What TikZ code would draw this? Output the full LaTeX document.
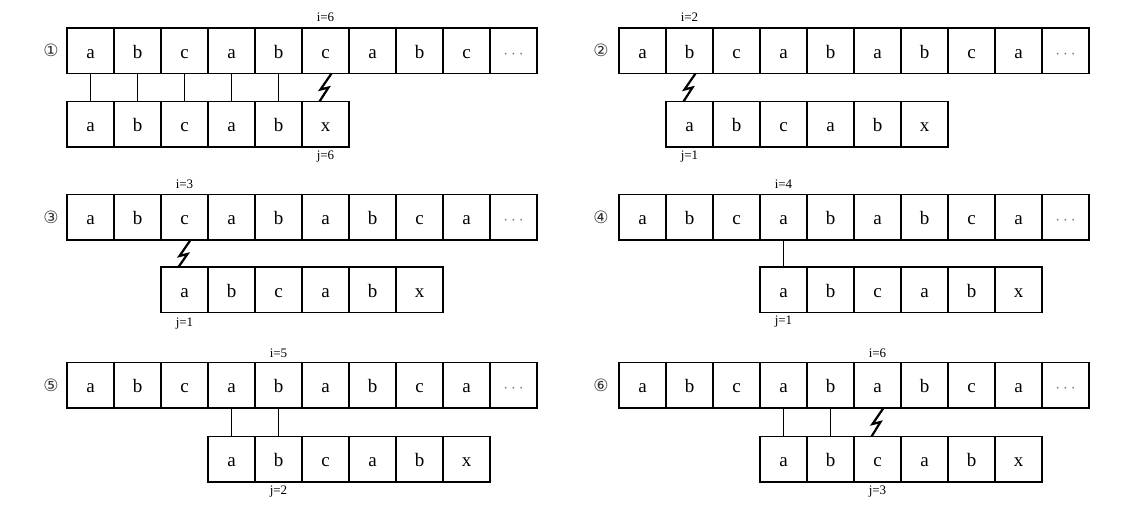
\documentclass[tikz,border=0pt]{standalone}
\usepackage{fontspec}
\setmainfont{Liberation Serif}
\newfontfamily\circfont{DejaVu Sans}
\usetikzlibrary{calc}
\tikzset{
 cellbox/.style={draw, line width=1.3pt, minimum width=47pt, minimum height=45.5pt, inner sep=0pt, outer sep=0pt, anchor=north west, font=\fontsize{19}{21}\selectfont, text height=15pt, text depth=0pt},
 dotsbox/.style={cellbox, text=black!55},
 idx/.style={font=\fontsize{13}{15}\selectfont, inner sep=0pt},
 num/.style={font=\circfont\fontsize{17}{19}\selectfont, inner sep=0pt, text=black!80},
 match/.style={line width=1.1pt},
 bolt/.style={line width=2.2pt, line join=miter},
}
\begin{document}
\begin{tikzpicture}[x=1pt,y=-1pt]
\useasboundingbox (0,0) rectangle (1144,506);
% ---------- panel 1 ----------
\foreach \c [count=\k from 0] in {a,b,c,a,b,c,a,b,c}
  \node[cellbox] (p1t\k) at ({67+\k*47},28) {\c};
\node[dotsbox] (p1t9) at ({67+9*47},28) {$\cdots$};
\foreach \c [count=\k from 0] in {a,b,c,a,b,x}
  \node[cellbox] (p1b\k) at ({67+\k*47},101.5) {\c};
\foreach \k in {0,...,4} \draw[match] (p1t\k.south) -- (p1b\k.north);
\draw[bolt] ($(p1t5.south)+(6,0)$) -- ++(-11,16) -- ++(8,-2) -- ($(p1b5.north)+(-6,0)$);
\node[idx] (i1) at ($(p1t5.north)+(0,-11)$) {i=6};
\node[idx] (j1) at ($(p1b5.south)+(0,10)$) {j=6};
\node[num] (n1) at ($(p1t0.west)+(-16,0)$) {①};
% ---------- panel 2 ----------
\foreach \c [count=\k from 0] in {a,b,c,a,b,a,b,c,a}
  \node[cellbox] (p2t\k) at ({619+\k*47},28) {\c};
\node[dotsbox] (p2t9) at ({619+9*47},28) {$\cdots$};
\foreach \c [count=\k from 0] in {a,b,c,a,b,x}
  \node[cellbox] (p2b\k) at ({619+(\k+1)*47},101.5) {\c};
\draw[bolt] ($(p2t1.south)+(6,0)$) -- ++(-11,16) -- ++(8,-2) -- ($(p2b0.north)+(-6,0)$);
\node[idx] (i2) at ($(p2t1.north)+(0,-11)$) {i=2};
\node[idx] (j2) at ($(p2b0.south)+(0,10)$) {j=1};
\node[num] (n2) at ($(p2t0.west)+(-18,0)$) {②};
% ---------- panel 3 ----------
\foreach \c [count=\k from 0] in {a,b,c,a,b,a,b,c,a}
  \node[cellbox] (p3t\k) at ({67+\k*47},194.5) {\c};
\node[dotsbox] (p3t9) at ({67+9*47},194.5) {$\cdots$};
\foreach \c [count=\k from 0] in {a,b,c,a,b,x}
  \node[cellbox] (p3b\k) at ({67+(\k+2)*47},267) {\c};
\draw[bolt] ($(p3t2.south)+(6,0)$) -- ++(-11,16) -- ++(8,-2) -- ($(p3b0.north)+(-6,0)$);
\node[idx] (i3) at ($(p3t2.north)+(0,-10)$) {i=3};
\node[idx] (j3) at ($(p3b0.south)+(0,11)$) {j=1};
\node[num] (n3) at ($(p3t0.west)+(-16,0)$) {③};
% ---------- panel 4 ----------
\foreach \c [count=\k from 0] in {a,b,c,a,b,a,b,c,a}
  \node[cellbox] (p4t\k) at ({619+\k*47},194.5) {\c};
\node[dotsbox] (p4t9) at ({619+9*47},194.5) {$\cdots$};
\foreach \c [count=\k from 0] in {a,b,c,a,b,x}
  \node[cellbox] (p4b\k) at ({619+(\k+3)*47},267) {\c};
\draw[match] (p4t3.south) -- (p4b0.north);
\node[idx] (i4) at ($(p4t3.north)+(0,-10)$) {i=4};
\node[idx] (j4) at ($(p4b0.south)+(0,9)$) {j=1};
\node[num] (n4) at ($(p4t0.west)+(-18,0)$) {④};
% ---------- panel 5 ----------
\foreach \c [count=\k from 0] in {a,b,c,a,b,a,b,c,a}
  \node[cellbox] (p5t\k) at ({67+\k*47},362.5) {\c};
\node[dotsbox] (p5t9) at ({67+9*47},362.5) {$\cdots$};
\foreach \c [count=\k from 0] in {a,b,c,a,b,x}
  \node[cellbox] (p5b\k) at ({67+(\k+3)*47},436.5) {\c};
\draw[match] (p5t3.south) -- (p5b0.north);
\draw[match] (p5t4.south) -- (p5b1.north);
\node[idx] (i5) at ($(p5t4.north)+(0,-9)$) {i=5};
\node[idx] (j5) at ($(p5b1.south)+(0,10)$) {j=2};
\node[num] (n5) at ($(p5t0.west)+(-16,0)$) {⑤};
% ---------- panel 6 ----------
\foreach \c [count=\k from 0] in {a,b,c,a,b,a,b,c,a}
  \node[cellbox] (p6t\k) at ({619+\k*47},362.5) {\c};
\node[dotsbox] (p6t9) at ({619+9*47},362.5) {$\cdots$};
\foreach \c [count=\k from 0] in {a,b,c,a,b,x}
  \node[cellbox] (p6b\k) at ({619+(\k+3)*47},436.5) {\c};
\draw[match] (p6t3.south) -- (p6b0.north);
\draw[match] (p6t4.south) -- (p6b1.north);
\draw[bolt] ($(p6t5.south)+(6,0)$) -- ++(-11,16) -- ++(8,-2) -- ($(p6b2.north)+(-6,0)$);
\node[idx] (i6) at ($(p6t5.north)+(0,-9)$) {i=6};
\node[idx] (j6) at ($(p6b2.south)+(0,10)$) {j=3};
\node[num] (n6) at ($(p6t0.west)+(-18,0)$) {⑥};
\end{tikzpicture}
\end{document}
